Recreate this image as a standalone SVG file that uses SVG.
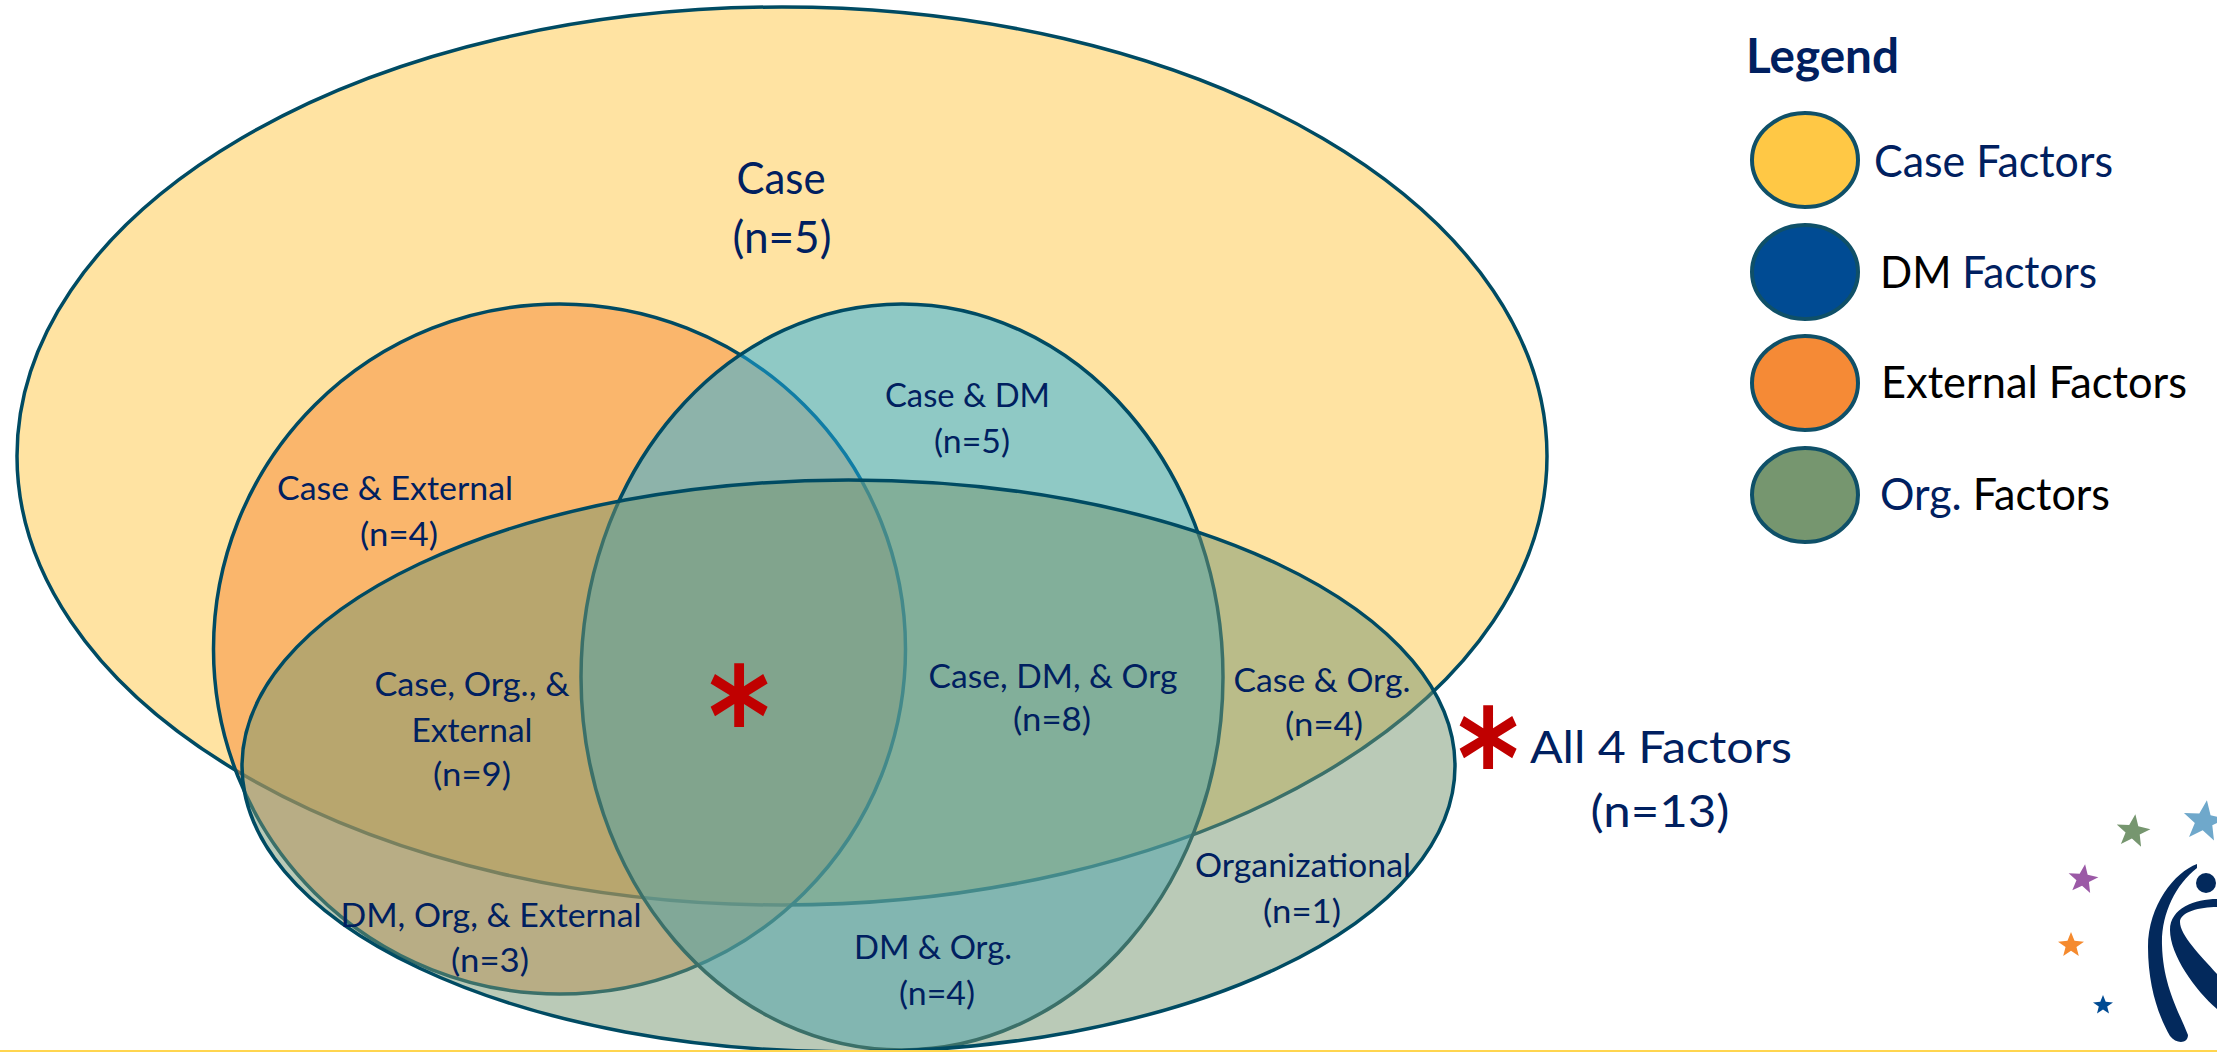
<svg xmlns="http://www.w3.org/2000/svg" width="2217" height="1052" viewBox="0 0 2217 1052">
<style>
.set{stroke:#004B63;stroke-width:3.500}
.lg{stroke:#0F5068;stroke-width:4}
text{font-family:"Lato","Open Sans","Liberation Sans",sans-serif;fill:#002060;text-anchor:middle}
.s{font-size:33px}
.m{font-size:44px}
.l{font-size:44px;text-anchor:start}
.ast{font-family:"DejaVu Sans",sans-serif;font-weight:bold;font-size:118px;fill:#C00000}
.k{fill:#000}
.n{fill:#002060}
.logo{fill:#03295C}
</style>
<rect width="2217" height="1052" fill="#fff"/>
<g id="node-case"><ellipse class="set" cx="782" cy="456" rx="765" ry="449" fill="#FFC845" fill-opacity=".5"/></g>
<g id="node-external"><ellipse class="set" cx="559.500" cy="649" rx="346" ry="345" fill="#F58A36" fill-opacity=".5"/></g>
<g id="node-dm"><ellipse class="set" cx="902" cy="677" rx="321" ry="373" fill="#20B0E8" fill-opacity=".5"/></g>
<g id="node-org"><ellipse class="set" cx="848.500" cy="766" rx="606.500" ry="286" fill="#76966F" fill-opacity=".5"/></g>
<g id="labels">
<text class="m" x="781" y="194" textLength="89" lengthAdjust="spacingAndGlyphs">Case</text>
<text class="m" x="782" y="253" textLength="99" lengthAdjust="spacingAndGlyphs">(n=5)</text>
<text class="s" x="395" y="500" textLength="236" lengthAdjust="spacingAndGlyphs">Case &amp; External</text>
<text class="s" x="399" y="546" textLength="78" lengthAdjust="spacingAndGlyphs">(n=4)</text>
<text class="s" x="967.500" y="407" textLength="165" lengthAdjust="spacingAndGlyphs">Case &amp; DM</text>
<text class="s" x="972" y="453" textLength="76" lengthAdjust="spacingAndGlyphs">(n=5)</text>
<text class="s" x="472" y="696" textLength="195" lengthAdjust="spacingAndGlyphs">Case, Org., &amp;</text>
<text class="s" x="472" y="742" textLength="121" lengthAdjust="spacingAndGlyphs">External</text>
<text class="s" x="472" y="786" textLength="78" lengthAdjust="spacingAndGlyphs">(n=9)</text>
<text class="s" x="1053" y="688" textLength="249" lengthAdjust="spacingAndGlyphs">Case, DM, &amp; Org</text>
<text class="s" x="1052" y="731" textLength="78" lengthAdjust="spacingAndGlyphs">(n=8)</text>
<text class="s" x="1322" y="692" textLength="177" lengthAdjust="spacingAndGlyphs">Case &amp; Org.</text>
<text class="s" x="1324" y="736" textLength="78" lengthAdjust="spacingAndGlyphs">(n=4)</text>
<text class="s" x="1303" y="877" textLength="216" lengthAdjust="spacingAndGlyphs">Organizational</text>
<text class="s" x="1302" y="923" textLength="78" lengthAdjust="spacingAndGlyphs">(n=1)</text>
<text class="s" x="933" y="959" textLength="158" lengthAdjust="spacingAndGlyphs">DM &amp; Org.</text>
<text class="s" x="937" y="1005" textLength="76" lengthAdjust="spacingAndGlyphs">(n=4)</text>
<text class="s" x="491" y="927" textLength="301" lengthAdjust="spacingAndGlyphs">DM, Org, &amp; External</text>
<text class="s" x="490" y="972" textLength="78" lengthAdjust="spacingAndGlyphs">(n=3)</text>
<text class="ast" transform="translate(739 695) scale(1 1.170)" y="60">*</text>
<text class="ast" transform="translate(1488 737) scale(1 1.170)" y="60">*</text>
<text class="m" x="1661" y="763" textLength="262" lengthAdjust="spacingAndGlyphs">All 4 Factors</text>
<text class="m" x="1660" y="827" textLength="139" lengthAdjust="spacingAndGlyphs">(n=13)</text>
</g>
<g id="legend">
<text x="1746" y="73" style="font-size:47px;font-weight:bold;text-anchor:start" textLength="153" lengthAdjust="spacingAndGlyphs">Legend</text>
<g id="legend-case"><ellipse class="lg" cx="1805" cy="160" rx="53" ry="47" fill="#FFC845"/><text class="l" x="1874" y="177" textLength="239" lengthAdjust="spacingAndGlyphs">Case Factors</text></g>
<g id="legend-dm"><ellipse class="lg" cx="1805" cy="272" rx="53" ry="47" fill="#004B93"/><text class="l" x="1880" y="288" textLength="217" lengthAdjust="spacingAndGlyphs"><tspan class="k">DM </tspan><tspan class="n">Factors</tspan></text></g>
<g id="legend-external"><ellipse class="lg" cx="1805" cy="383" rx="53" ry="47" fill="#F58A36"/><text class="l k" x="1881" y="398" textLength="306" lengthAdjust="spacingAndGlyphs">External Factors</text></g>
<g id="legend-org"><ellipse class="lg" cx="1805" cy="495" rx="53" ry="47" fill="#76966F"/><text class="l" x="1880" y="510" textLength="230" lengthAdjust="spacingAndGlyphs"><tspan class="n">Org. </tspan><tspan class="k">Factors</tspan></text></g>
</g>
<g id="logo">
<polygon fill="#76966F" transform="translate(2133 831) rotate(8) scale(17)" points="0,-1 .27,-.32 1,-.25 .42,.15 .6,.85 0,.45 -.6,.85 -.42,.15 -1,-.25 -.27,-.32"/>
<polygon fill="#6FA8CB" transform="translate(2204 821) rotate(8) scale(21)" points="0,-1 .27,-.32 1,-.25 .42,.15 .6,.85 0,.45 -.6,.85 -.42,.15 -1,-.25 -.27,-.32"/>
<polygon fill="#9B59A6" transform="translate(2083 879) rotate(8) scale(15)" points="0,-1 .27,-.32 1,-.25 .42,.15 .6,.85 0,.45 -.6,.85 -.42,.15 -1,-.25 -.27,-.32"/>
<polygon fill="#F58A2E" transform="translate(2071 945) scale(13)" points="0,-1 .27,-.32 1,-.25 .42,.15 .6,.85 0,.45 -.6,.85 -.42,.15 -1,-.25 -.27,-.32"/>
<polygon fill="#004B93" transform="translate(2103 1005) scale(10)" points="0,-1 .27,-.32 1,-.25 .42,.15 .6,.85 0,.45 -.6,.85 -.42,.15 -1,-.25 -.27,-.32"/>
<path class="logo" d="M2197 864C2175 872 2148 905 2148 947C2148 985 2158 1015 2170 1036C2176 1044 2188 1044 2188 1035C2178 1010 2163 985 2162 945C2161 915 2175 885 2197 868Z"/>
<circle class="logo" cx="2206" cy="883" r="10"/>
<path class="logo" d="M2217 899C2195 899 2170 908 2170 930C2170 955 2195 990 2217 1009V974C2200 955 2180 935 2180 922C2180 912 2200 907 2217 907Z"/>
</g>
<rect id="bar" x="0" y="1050" width="2217" height="2" fill="#FFD54F"/>
</svg>
